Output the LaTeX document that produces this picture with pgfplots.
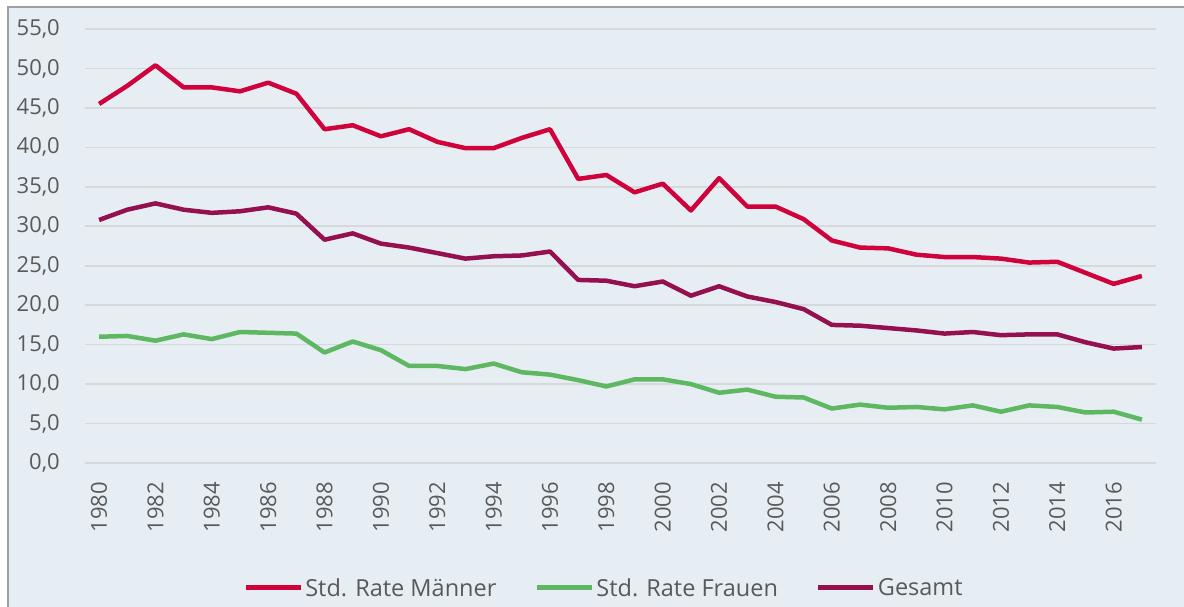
\documentclass[border=0pt]{standalone}
\usepackage{fontspec}
\setmainfont{Open Sans}
\usepackage{pgfplots}
\usepackage{pgfplotstable}
\pgfplotsset{compat=1.18}
\definecolor{bgc}{HTML}{E6EEF4}
\definecolor{gridc}{HTML}{D6D9DC}
\definecolor{txt}{HTML}{595959}
\definecolor{men}{HTML}{D0023B}
\definecolor{women}{HTML}{5EB761}
\definecolor{total}{HTML}{94104F}
\definecolor{framec}{HTML}{A0A0A0}
\pgfplotstableread{
year M F G
1980 45.5 16.0 30.8
1981 47.8 16.1 32.1
1982 50.4 15.5 32.9
1983 47.6 16.3 32.1
1984 47.6 15.7 31.7
1985 47.1 16.6 31.9
1986 48.2 16.5 32.4
1987 46.8 16.4 31.6
1988 42.3 14.0 28.3
1989 42.8 15.4 29.1
1990 41.4 14.3 27.8
1991 42.3 12.3 27.3
1992 40.7 12.3 26.6
1993 39.9 11.9 25.9
1994 39.9 12.6 26.2
1995 41.2 11.5 26.3
1996 42.3 11.2 26.8
1997 36.0 10.5 23.2
1998 36.5 9.7 23.1
1999 34.3 10.6 22.4
2000 35.4 10.6 23.0
2001 32.0 10.0 21.2
2002 36.1 8.9 22.4
2003 32.5 9.3 21.1
2004 32.5 8.4 20.4
2005 30.9 8.3 19.5
2006 28.2 6.9 17.5
2007 27.3 7.4 17.4
2008 27.2 7.0 17.1
2009 26.4 7.1 16.8
2010 26.1 6.8 16.4
2011 26.1 7.3 16.6
2012 25.9 6.5 16.2
2013 25.4 7.3 16.3
2014 25.5 7.1 16.3
2015 24.1 6.4 15.3
2016 22.7 6.5 14.5
2017 23.7 5.5 14.7
}\datatable
\begin{document}
\begin{tikzpicture}
\useasboundingbox (-85pt,-144pt) rectangle (1099pt,463pt);
\fill[white] (-85pt,-144pt) rectangle (1099pt,463pt);
\filldraw[fill=bgc, draw=framec, line width=1.2pt] (-77pt,-170pt) rectangle (1120pt,456pt);
\begin{axis}[
  scale only axis,
  width=1071pt, height=434pt,
  xmin=1979.5, xmax=2017.5,
  ymin=0, ymax=55,
  ytick={0,5,...,55},
  xtick={1980,1982,...,2016},
  xticklabels={1980,1982,1984,1986,1988,1990,1992,1994,1996,1998,2000,2002,2004,2006,2008,2010,2012,2014,2016},
  axis line style={draw=none},
  major tick length=0pt,
  ymajorgrids,
  grid style={gridc, line width=1.6pt},
  /pgf/number format/assume math mode=true,
  yticklabel={\pgfmathprintnumber[fixed,fixed zerofill,precision=1,use comma]{\tick}},
  yticklabel style={font=\fontsize{22}{26}\selectfont, text=txt, anchor=east, inner sep=0pt, xshift=-25pt},
  xticklabel style={font=\fontsize{22}{26}\selectfont, text=txt, yshift=-19pt, rotate=90, anchor=east, inner sep=0pt},
  legend style={at={(0.4846,-0.288)}, anchor=center, draw=none, fill=none,
    font=\fontsize{23.5}{28}\selectfont, text=txt,
    /tikz/every even column/.append style={column sep=36pt},
    nodes={inner sep=2pt}},
  legend columns=3,
  legend image code/.code={\draw[#1, line width=5pt] (0pt,0pt) -- (55pt,0pt);},
  every axis plot/.append style={line width=4.5pt, line join=round},
]
\addplot[men, mark=none] table[x=year, y=M] {\datatable};
\addlegendentry{Std. Rate Männer}
\addplot[women, mark=none] table[x=year, y=F] {\datatable};
\addlegendentry{Std. Rate Frauen}
\addplot[total, mark=none] table[x=year, y=G] {\datatable};
\addlegendentry{Gesamt}
\end{axis}
\end{tikzpicture}
\end{document}
